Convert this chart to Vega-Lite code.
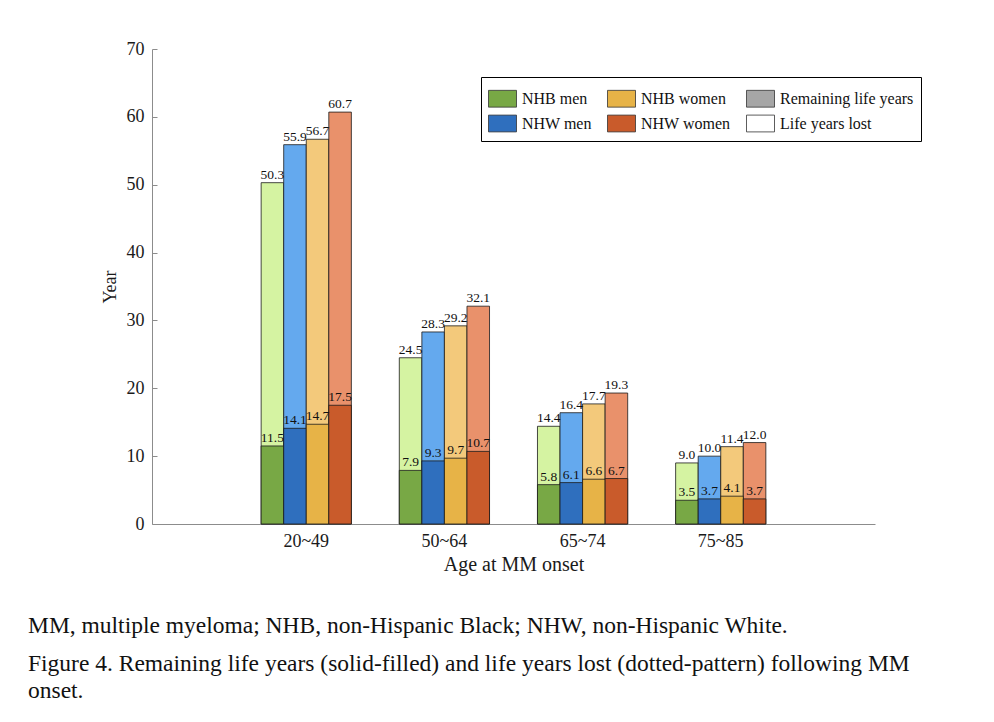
{
  "$schema": "https://vega.github.io/schema/vega-lite/v6.json",
  "width": 723,
  "height": 475,
  "autosize": {"type": "none"},
  "padding": {"left": 152, "top": 49, "right": 119, "bottom": 198},
  "background": "white",
  "config": {
    "view": {"stroke": null},
    "font": "Liberation Serif",
    "axis": {"grid": false, "labelFont": "Liberation Serif", "titleFont": "Liberation Serif", "labelColor": "#1a1a1a", "titleColor": "#1a1a1a", "titleFontWeight": "normal", "domainColor": "#8c8c8c", "tickColor": "#8c8c8c"}
  },
  "title": {
    "text": "MM, multiple myeloma; NHB, non-Hispanic Black; NHW, non-Hispanic White.",
    "subtitle": ["Figure 4. Remaining life years (solid-filled) and life years lost (dotted-pattern) following MM", "onset."],
    "orient": "bottom",
    "anchor": "start",
    "frame": "group",
    "dx": -124,
    "offset": 40,
    "font": "Liberation Serif",
    "fontSize": 23.5,
    "fontWeight": "normal",
    "color": "#111",
    "subtitleFont": "Liberation Serif",
    "subtitleFontSize": 23.5,
    "subtitleColor": "#111",
    "subtitleLineHeight": 27,
    "subtitlePadding": 14
  },
  "datasets": {
    "bars": [
      {"age": "20~49", "group": "NHB men", "remaining": 11.5, "total": 50.3},
      {"age": "20~49", "group": "NHW men", "remaining": 14.1, "total": 55.9},
      {"age": "20~49", "group": "NHB women", "remaining": 14.7, "total": 56.7},
      {"age": "20~49", "group": "NHW women", "remaining": 17.5, "total": 60.7},
      {"age": "50~64", "group": "NHB men", "remaining": 7.9, "total": 24.5},
      {"age": "50~64", "group": "NHW men", "remaining": 9.3, "total": 28.3},
      {"age": "50~64", "group": "NHB women", "remaining": 9.7, "total": 29.2},
      {"age": "50~64", "group": "NHW women", "remaining": 10.7, "total": 32.1},
      {"age": "65~74", "group": "NHB men", "remaining": 5.8, "total": 14.4},
      {"age": "65~74", "group": "NHW men", "remaining": 6.1, "total": 16.4},
      {"age": "65~74", "group": "NHB women", "remaining": 6.6, "total": 17.7},
      {"age": "65~74", "group": "NHW women", "remaining": 6.7, "total": 19.3},
      {"age": "75~85", "group": "NHB men", "remaining": 3.5, "total": 9.0},
      {"age": "75~85", "group": "NHW men", "remaining": 3.7, "total": 10.0},
      {"age": "75~85", "group": "NHB women", "remaining": 4.1, "total": 11.4},
      {"age": "75~85", "group": "NHW women", "remaining": 3.7, "total": 12.0}
    ],
    "legendItems": [
      {"label": "NHB men"},
      {"label": "NHB women"},
      {"label": "Remaining life years"},
      {"label": "NHW men"},
      {"label": "NHW women"},
      {"label": "Life years lost"}
    ]
  },
  "layer": [
    {
      "data": {"name": "bars"},
      "encoding": {
        "x": {
          "field": "age", "type": "nominal", "sort": ["20~49", "50~64", "65~74", "75~85"],
          "scale": {"paddingInner": 0.347, "paddingOuter": 0.79},
          "axis": {"title": "Age at MM onset", "labelAngle": 0, "labelFontSize": 18, "titleFontSize": 20, "ticks": false, "labelPadding": 8, "titlePadding": 4}
        },
        "xOffset": {
          "field": "group", "type": "nominal",
          "scale": {"domain": ["NHB men", "NHW men", "NHB women", "NHW women"], "paddingInner": 0, "paddingOuter": 0}
        }
      },
      "layer": [
        {
          "mark": {"type": "bar", "stroke": "#1a1a1a", "strokeWidth": 0.8},
          "encoding": {
            "y": {
              "field": "total", "type": "quantitative",
              "scale": {"domain": [0, 70], "nice": false},
              "axis": {"title": "Year", "values": [0, 10, 20, 30, 40, 50, 60, 70], "labelFontSize": 18, "titleFontSize": 18, "tickSize": -5, "labelPadding": 13, "titlePadding": 7}
            },
            "fill": {
              "field": "group", "type": "nominal", "legend": null,
              "scale": {"domain": ["NHB men", "NHW men", "NHB women", "NHW women"], "range": ["#d5f3a2", "#64a9ee", "#f3c97b", "#e9916b"]}
            }
          }
        },
        {
          "mark": {"type": "bar", "stroke": "#1a1a1a", "strokeWidth": 0.8},
          "encoding": {
            "y": {"field": "remaining", "type": "quantitative"},
            "fill": {
              "field": "group", "type": "nominal", "legend": null,
              "scale": {"domain": ["NHB men", "NHW men", "NHB women", "NHW women"], "range": ["#78a845", "#2f6fbe", "#e7b347", "#c95b2b"]}
            }
          }
        },
        {
          "mark": {"type": "text", "baseline": "bottom", "dy": -1, "fontSize": 13.5, "font": "Liberation Serif", "color": "#111"},
          "encoding": {
            "y": {"field": "total", "type": "quantitative"},
            "text": {"field": "total", "type": "quantitative", "format": ".1f"}
          }
        },
        {
          "mark": {"type": "text", "baseline": "bottom", "dy": -1, "fontSize": 13.5, "font": "Liberation Serif", "color": "#111"},
          "encoding": {
            "y": {"field": "remaining", "type": "quantitative"},
            "text": {"field": "remaining", "type": "quantitative", "format": ".1f"}
          }
        }
      ],
      "resolve": {"scale": {"fill": "independent"}}
    },
    {
      "data": {"name": "legendItems"},
      "mark": {"type": "square", "opacity": 0},
      "encoding": {
        "fill": {
          "field": "label", "type": "nominal",
          "scale": {
            "domain": ["NHB men", "NHB women", "Remaining life years", "NHW men", "NHW women", "Life years lost"],
            "range": ["#78a845", "#e7b347", "#a6a6a6", "#2f6fbe", "#c95b2b", "#ffffff"]
          },
          "legend": {
            "title": null,
            "orient": "none",
            "legendX": 329,
            "legendY": 28,
            "columns": 3,
            "direction": "horizontal",
            "symbolType": "M-1,-0.6L1,-0.6L1,0.6L-1,0.6Z",
            "symbolSize": 784,
            "symbolOpacity": 1,
            "symbolStrokeColor": "#333",
            "symbolStrokeWidth": 0.8,
            "labelFont": "Liberation Serif",
            "labelFontSize": 16,
            "labelColor": "#111",
            "labelOffset": 5,
            "labelLimit": 300,
            "strokeColor": "#000",
            "fillColor": "white",
            "padding": 7,
            "rowPadding": -6,
            "columnPadding": 13
          }
        }
      }
    }
  ],
  "resolve": {"scale": {"fill": "independent"}}
}
